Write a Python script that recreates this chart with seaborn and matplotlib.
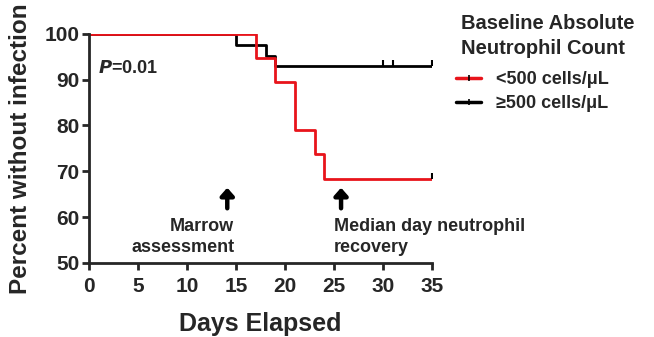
import matplotlib
matplotlib.use("Agg")
import matplotlib.pyplot as plt
import seaborn as sns
import pandas as pd
from matplotlib.lines import Line2D

# Kaplan-Meier step data
low_days = [0, 17, 19, 21, 23, 24, 35]
low_pct = [100, 94.7, 89.5, 78.9, 73.7, 68.4, 68.4]
high_days = [0, 15, 18, 19, 35]
high_pct = [100, 97.6, 95.2, 92.9, 92.9]
low_censor_days = [35]
low_censor_pct = [68.4]
high_censor_days = [30, 31, 35]
high_censor_pct = [92.9, 92.9, 92.9]

groups = ["<500 cells/\u03bcL", "\u2265500 cells/\u03bcL"]
colors = ["#e8141b", "black"]

df = pd.concat([
    pd.DataFrame({"Days": low_days, "Pct": low_pct, "Group": groups[0]}),
    pd.DataFrame({"Days": high_days, "Pct": high_pct, "Group": groups[1]}),
])

sns.set_style("ticks")
plt.rcParams["font.family"] = ["Liberation Sans", "DejaVu Sans"]
plt.rcParams["font.weight"] = "bold"

fig, ax = plt.subplots(figsize=(6.54, 3.37), dpi=100)
fig.subplots_adjust(left=0.136, right=0.661, top=0.9, bottom=0.22)

# black drawn first, red on top
sns.lineplot(data=df[df.Group == groups[1]], x="Days", y="Pct", color=colors[1],
             drawstyle="steps-post", lw=2, ax=ax, legend=False, estimator=None)
sns.lineplot(data=df[df.Group == groups[0]], x="Days", y="Pct", color=colors[0],
             drawstyle="steps-post", lw=2, ax=ax, legend=False, estimator=None)
ax.scatter(high_censor_days, [p + 0.6 for p in high_censor_pct], marker="|", color="black", s=25, lw=1.5, zorder=5)
ax.scatter(low_censor_days, [p + 0.6 for p in low_censor_pct], marker="|", color="black", s=25, lw=1.5, zorder=5)

ax.set_xlim(0, 35)
ax.set_ylim(50, 100)
ax.set_xticks(range(0, 36, 5))
ax.set_yticks(range(50, 101, 10))
for s in ["left", "bottom"]:
    ax.spines[s].set_linewidth(2)
sns.despine(ax=ax)
ax.tick_params(width=2, length=5, labelsize=15)
ax.tick_params(axis="x", pad=5)
ax.tick_params(axis="y", pad=2)
for lab in ax.get_xticklabels() + ax.get_yticklabels():
    lab.set_fontweight("bold")
ax.set_xlabel("Days Elapsed", fontsize=18, fontweight="bold", labelpad=12)
ax.set_ylabel("Percent without infection", fontsize=17.5, fontweight="bold", labelpad=9)

ax.text(0.9, 92.3, "$\\bf{\\it{P}}$=0.01", fontsize=13, fontweight="bold", va="center")

ax.annotate("", xy=(14.1, 67), xytext=(14.1, 61.3),
            arrowprops=dict(arrowstyle="-|>,head_width=0.4,head_length=0.45", color="black", lw=3.2))
ax.annotate("", xy=(25.7, 67), xytext=(25.7, 61.3),
            arrowprops=dict(arrowstyle="-|>,head_width=0.4,head_length=0.45", color="black", lw=3.2))
ax.text(14.8, 55.6, "Marrow\nassessment", ha="right", va="center", fontsize=13,
        fontweight="bold", linespacing=1.3)
ax.text(25.0, 55.6, "Median day neutrophil\nrecovery", ha="left", va="center", fontsize=13,
        fontweight="bold", linespacing=1.3)

# legend title as separate text
fig.text(461 / 654, 1 - 36 / 337, "Baseline Absolute\nNeutrophil Count", ha="left", va="center",
         fontsize=14.5, fontweight="bold", linespacing=1.45)
handles = [Line2D([0], [0], color=colors[0], lw=2.5, marker="|", markersize=5, mec="black", mew=1.2),
           Line2D([0], [0], color=colors[1], lw=2.5, marker="|", markersize=5, mec="black", mew=1.2)]
leg = fig.legend(handles, groups, loc="upper left", bbox_to_anchor=(456 / 654, 1 - 71 / 337),
                 frameon=False, prop={"weight": "bold", "size": 13}, handlelength=1.4,
                 handletextpad=0.8, labelspacing=0.4, borderpad=0, borderaxespad=0)

fig.savefig("out.png", dpi=100)
